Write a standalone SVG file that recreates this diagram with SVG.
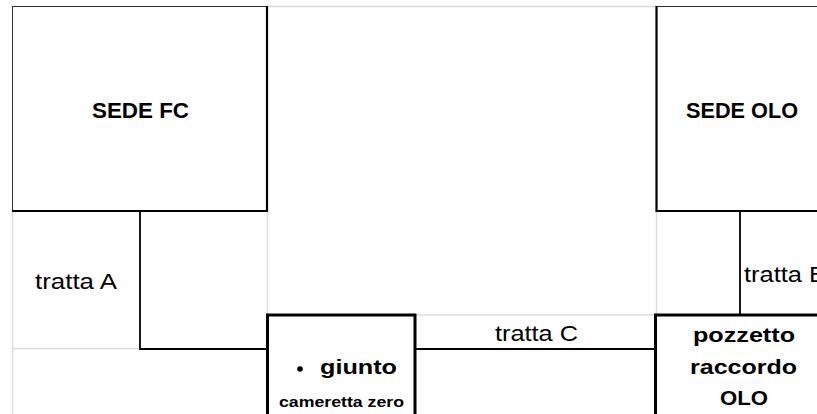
<svg xmlns="http://www.w3.org/2000/svg" width="817" height="414" viewBox="0 0 817 414">
  <style>
    .grid { stroke: #dcdcdc; stroke-width: 1.5; fill: none; }
    .thin { stroke: #333; stroke-width: 1; fill: none; }
    .med { stroke: #000; stroke-width: 2.2; fill: none; }
    .thick { stroke: #000; stroke-width: 3; fill: #fff; }
    .conn { stroke: #000; stroke-width: 1.8; fill: none; }
    .title { font-family: "Liberation Sans", Arial, sans-serif; font-weight: bold; font-size: 22px; fill: #000; text-anchor: middle; }
    .bold { font-family: "Liberation Sans", Arial, sans-serif; font-weight: bold; font-size: 21px; fill: #000; text-anchor: middle; }
    .small { font-family: "Liberation Sans", Arial, sans-serif; font-weight: bold; font-size: 15.5px; fill: #000; text-anchor: middle; }
    .label { font-family: "Liberation Sans", Arial, sans-serif; font-size: 22px; fill: #000; }
  </style>
  <rect x="0" y="0" width="817" height="414" fill="#fff"/>
  <g id="grid">
    <line class="grid" x1="12" y1="6.5" x2="817" y2="6.5"/>
    <line class="grid" x1="12.5" y1="212" x2="12.5" y2="414"/>
    <line class="grid" x1="12" y1="348.5" x2="140" y2="348.5"/>
    <line class="grid" x1="267.5" y1="212" x2="267.5" y2="315"/>
    <line class="grid" x1="415" y1="315" x2="655" y2="315"/>
    <line class="grid" x1="656.5" y1="212" x2="656.5" y2="315"/>
  </g>
  <g id="connectors">
    <path class="conn" d="M140,212 V349 H268"/>
    <line class="conn" x1="415" y1="349" x2="656" y2="349"/>
    <line class="conn" x1="740" y1="212" x2="740" y2="315"/>
    <text class="label" x="35" y="289" textLength="82" lengthAdjust="spacingAndGlyphs">tratta A</text>
    <text class="label" x="744" y="282" textLength="82" lengthAdjust="spacingAndGlyphs">tratta B</text>
    <text class="label" x="495" y="341" textLength="83" lengthAdjust="spacingAndGlyphs">tratta C</text>
  </g>
  <g id="sede-fc">
    <rect x="12.5" y="6.5" width="254.5" height="204.5" fill="#fff" class="thin"/>
    <path class="med" d="M267,6 V211 H12"/>
    <text class="title" x="140.5" y="118" textLength="97" lengthAdjust="spacingAndGlyphs">SEDE FC</text>
  </g>
  <g id="sede-olo">
    <line class="thin" x1="656" y1="6.5" x2="817" y2="6.5"/>
    <path class="med" d="M830,211 H656.5 V6"/>
    <text class="title" x="742" y="118" textLength="112" lengthAdjust="spacingAndGlyphs">SEDE OLO</text>
  </g>
  <g id="giunto">
    <rect class="thick" x="267.5" y="315" width="147.5" height="120"/>
    <circle cx="300" cy="369" r="2.8" fill="#000"/>
    <text class="bold" x="358.5" y="374" textLength="77" lengthAdjust="spacingAndGlyphs">giunto</text>
    <text class="small" x="341.5" y="407" textLength="125" lengthAdjust="spacingAndGlyphs">cameretta zero</text>
  </g>
  <g id="pozzetto">
    <rect class="thick" x="655.5" y="315" width="200" height="120"/>
    <text class="bold" x="744" y="342" textLength="102" lengthAdjust="spacingAndGlyphs">pozzetto</text>
    <text class="bold" x="743.5" y="374" textLength="107" lengthAdjust="spacingAndGlyphs">raccordo</text>
    <text class="bold" x="744" y="405" textLength="48" lengthAdjust="spacingAndGlyphs">OLO</text>
  </g>
</svg>
